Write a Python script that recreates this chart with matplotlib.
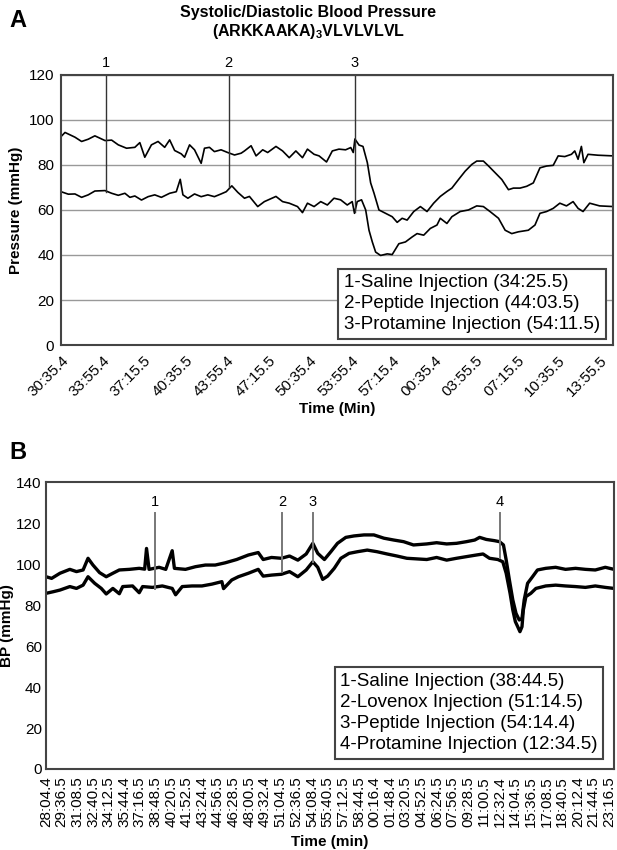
import numpy as np
import matplotlib
matplotlib.use("Agg")
import matplotlib.pyplot as plt

plt.rcParams["font.family"] = ["Liberation Sans", "DejaVu Sans"]
plt.rcParams["mathtext.fontset"] = "custom"
plt.rcParams["mathtext.bf"] = "Liberation Sans:bold"

# ---- panel A data (seconds from 30:35.4) ----
a_ticklabels = ["30:35.4", "33:55.4", "37:15.5", "40:35.5", "43:55.4", "47:15.5",
                "50:35.4", "53:55.4", "57:15.4", "00:35.4", "03:55.5", "07:15.5",
                "10:35.5", "13:55.5"]
a_sys_t = [0, 19, 67, 99, 131, 163, 212, 244, 276, 316, 356, 380, 404, 436, 468,
           500, 524, 548, 580, 596, 620, 644, 676, 692, 716, 740, 772, 804, 837,
           869, 885, 917, 941, 973, 997, 1037, 1069, 1101, 1133, 1165, 1189, 1221,
           1245, 1281, 1309, 1341, 1373, 1398, 1410, 1418, 1438, 1457, 1478, 1494,
           1510, 1534, 1566, 1598, 1622, 1646, 1670, 1702, 1734, 1766, 1798, 1830,
           1862, 1886, 1918, 1950, 1982, 2006, 2038, 2063, 2095, 2127, 2159, 2183,
           2215, 2247, 2279, 2311, 2343, 2375, 2399, 2431, 2463, 2479, 2495, 2511,
           2523, 2543, 2591, 2665]
a_sys_v = [92.6, 94.4, 92.3, 90.4, 91.4, 92.9, 90.8, 91.0, 88.9, 87.4, 87.8, 89.9,
           83.4, 88.9, 90.4, 87.8, 91.1, 86.4, 84.9, 83.4, 88.9, 86.7, 80.7, 87.4,
           87.8, 85.9, 86.7, 85.5, 84.4, 85.2, 86.2, 88.5, 84.0, 86.7, 85.5, 88.2,
           86.2, 83.2, 86.2, 83.2, 87.0, 84.7, 84.0, 81.3, 86.2, 87.0, 86.7, 87.7,
           85.5, 91.5, 88.8, 88.2, 81.0, 72.0, 67.5, 60.0, 58.5, 57.0, 54.5, 56.3,
           55.5, 59.3, 61.5, 59.3, 63.0, 66.0, 68.2, 69.7, 73.5, 77.2, 80.2, 81.7,
           81.7, 79.5, 76.5, 73.5, 69.0, 69.7, 69.7, 70.5, 72.0, 78.7, 79.5, 79.8,
           84.0, 83.7, 84.7, 86.2, 82.5, 88.2, 81.0, 84.7, 84.3, 84.0]
a_dia_t = [0, 35, 67, 99, 131, 163, 212, 244, 276, 308, 332, 356, 388, 420, 452,
           484, 524, 556, 575, 588, 612, 644, 676, 708, 740, 772, 797, 824, 853,
           885, 909, 949, 981, 1037, 1069, 1101, 1141, 1165, 1189, 1221, 1253,
           1285, 1317, 1349, 1381, 1405, 1416, 1429, 1450, 1470, 1486, 1502, 1518,
           1542, 1574, 1598, 1630, 1662, 1694, 1718, 1750, 1782, 1814, 1830, 1862,
           1886, 1926, 1966, 2006, 2038, 2070, 2111, 2143, 2175, 2207, 2255, 2287,
           2311, 2343, 2375, 2407, 2439, 2471, 2495, 2519, 2551, 2599, 2665]
a_dia_v = [68.1, 67.0, 67.1, 65.6, 66.7, 68.4, 68.6, 67.4, 66.5, 67.4, 65.6, 66.2,
           64.4, 65.9, 66.7, 65.6, 67.4, 68.1, 73.6, 66.7, 65.2, 67.1, 65.9, 66.7,
           65.9, 67.1, 68.1, 70.7, 67.8, 65.2, 66.0, 61.5, 63.7, 66.0, 63.7, 63.0,
           61.5, 58.8, 63.0, 61.5, 63.7, 62.2, 65.2, 64.5, 62.2, 63.7, 58.5, 63.7,
           64.5, 60.0, 51.0, 45.8, 41.3, 39.8, 40.5, 40.2, 45.0, 45.8, 48.0, 49.5,
           48.8, 51.8, 53.3, 56.3, 54.0, 57.0, 59.3, 60.0, 61.8, 61.5, 59.3, 56.3,
           51.0, 49.5, 50.3, 51.0, 53.3, 58.5, 59.3, 60.7, 63.0, 61.8, 63.7, 60.7,
           59.3, 63.0, 61.8, 61.5]
a_marks = ["1", "2", "3"]
a_mark_t = [215.0, 808.1, 1416.1]
a_mark_low = [68, 70, 59]
a_legend = ["1-Saline Injection (34:25.5)",
            "2-Peptide Injection (44:03.5)",
            "3-Protamine Injection (54:11.5)"]

# ---- panel B data (seconds from 28:04.4) ----
b_ticklabels = ["28:04.4", "29:36.5", "31:08.5", "32:40.5", "34:12.5", "35:44.4",
                "37:16.5", "38:48.5", "40:20.5", "41:52.5", "43:24.4", "44:56.5",
                "46:28.5", "48:00.5", "49:32.4", "51:04.5", "52:36.5", "54:08.4",
                "55:40.5", "57:12.5", "58:44.5", "00:16.4", "01:48.4", "03:20.5",
                "04:52.5", "06:24.5", "07:56.5", "09:28.5", "11:00.5", "12:32.4",
                "14:04.5", "15:36.5", "17:08.5", "18:40.5", "20:12.4", "21:44.5",
                "23:16.5"]
b_sys_t = [0, 33, 82, 140, 179, 218, 247, 276, 315, 354, 393, 431, 490, 548, 580,
           591, 606, 665, 704, 742, 755, 820, 879, 937, 995, 1054, 1121, 1190,
           1248, 1277, 1326, 1384, 1432, 1481, 1530, 1569, 1598, 1637, 1675, 1714,
           1763, 1811, 1870, 1928, 1987, 2045, 2103, 2161, 2239, 2297, 2356, 2414,
           2472, 2521, 2550, 2589, 2637, 2667, 2690, 2706, 2725, 2745, 2764, 2783,
           2799, 2812, 2832, 2861, 2890, 2939, 2997, 3055, 3114, 3172, 3230, 3289,
           3340]
b_sys_v = [93.8, 93.0, 95.5, 97.4, 96.3, 97.1, 102.8, 99.5, 95.8, 93.8, 95.5, 97.1,
           97.4, 97.9, 97.5, 107.6, 97.4, 98.4, 97.4, 106.5, 97.9, 97.4, 98.7, 99.5,
           99.5, 100.6, 102.2, 104.4, 105.6, 102.2, 103.2, 102.8, 103.9, 101.9,
           104.9, 110.1, 105.2, 102.2, 106.0, 110.1, 113.0, 113.7, 114.2, 114.2,
           112.6, 111.7, 110.9, 109.3, 109.8, 110.4, 109.8, 110.1, 110.9, 111.7,
           113.0, 112.0, 111.4, 110.9, 109.3, 102.0, 92.2, 82.5, 75.9, 72.7, 73.5,
           82.5, 90.6, 93.8, 97.1, 97.9, 98.4, 97.4, 97.9, 97.4, 97.1, 98.4, 97.4]
b_dia_t = [0, 43, 82, 140, 179, 218, 247, 286, 325, 354, 393, 431, 451, 509, 548,
           568, 626, 684, 742, 762, 801, 859, 917, 976, 1034, 1044, 1092, 1131,
           1190, 1248, 1277, 1326, 1384, 1432, 1481, 1530, 1569, 1598, 1627, 1656,
           1695, 1734, 1782, 1831, 1889, 1947, 2006, 2064, 2122, 2181, 2239, 2297,
           2356, 2414, 2472, 2531, 2570, 2608, 2657, 2686, 2706, 2729, 2745, 2760,
           2774, 2787, 2799, 2807, 2822, 2851, 2881, 2939, 2997, 3055, 3114, 3172,
           3230, 3289, 3340]
b_dia_v = [85.7, 86.5, 87.3, 89.0, 88.1, 89.7, 93.8, 90.6, 88.1, 85.4, 88.1, 85.5,
           89.0, 89.3, 86.0, 89.0, 88.6, 89.3, 88.1, 85.0, 89.0, 89.3, 89.3, 90.2,
           91.4, 88.0, 92.2, 93.8, 95.5, 97.4, 94.1, 94.6, 95.0, 96.3, 93.8, 97.1,
           101.1, 98.4, 92.5, 94.1, 97.9, 102.8, 105.2, 106.0, 106.8, 106.0, 104.9,
           103.9, 102.8, 102.5, 102.2, 103.2, 101.9, 102.8, 103.6, 104.4, 104.9,
           102.8, 102.2, 101.1, 95.5, 85.7, 77.6, 71.9, 69.4, 67.0, 69.4, 77.6,
           84.1, 85.7, 88.1, 89.3, 89.7, 89.3, 89.0, 88.6, 89.3, 88.6, 88.1]
b_marks = ["1", "2", "3", "4"]
b_mark_t = [640.1, 1390.1, 1570.0, 2668.1]
b_mark_low = [88, 96, 101, 103]
b_legend = ["1-Saline Injection (38:44.5)",
            "2-Lovenox Injection (51:14.5)",
            "3-Peptide Injection (54:14.4)",
            "4-Protamine Injection (12:34.5)"]

edge = "#444444"
fig = plt.figure(figsize=(6.17, 8.5), dpi=100)

# ---------------- Panel A ----------------
ax = fig.add_axes([0.099, 0.594, 0.895, 0.318])
ax.set_xlim(0, 2665)
ax.set_ylim(0, 120)
ax.set_yticks(range(0, 121, 20))
ax.yaxis.grid(True, color="#999999", lw=1.0)
ax.set_axisbelow(True)
ax.plot(a_sys_t, a_sys_v, color="black", lw=1.2)
ax.plot(a_dia_t, a_dia_v, color="black", lw=1.2)
for lab, t, low in zip(a_marks, a_mark_t, a_mark_low):
    ax.plot([t, t], [120, low], color="#333333", lw=1.0)
    ax.text(t, 122, lab, ha="center", va="bottom", fontsize=10.5, clip_on=False)
ax.set_xticks(np.arange(len(a_ticklabels)) * 200)
ax.set_xticklabels(a_ticklabels, rotation=45, ha="right", rotation_mode="anchor",
                   fontsize=10.5)
ax.tick_params(length=0, pad=5, labelsize=11)
ax.tick_params(axis="x", pad=6)
for s in ax.spines.values():
    s.set_color(edge)
    s.set_linewidth(1.5)
ax.text(0.512, 0.045, "\n".join(a_legend), transform=ax.transAxes, fontsize=13.5,
        ha="left", va="bottom", linespacing=1.3,
        bbox=dict(boxstyle="square,pad=0.3", fc="white", ec=edge, lw=1.5))
ax.set_ylabel("Pressure (mmHg)", fontsize=11, fontweight="bold", labelpad=4)
ax.set_xlabel("Time (Min)", fontsize=11, fontweight="bold", labelpad=2)
fig.text(0.5, 0.985, "Systolic/Diastolic Blood Pressure", ha="center", va="center",
         fontsize=11.5, fontweight="bold")
fig.text(0.5, 0.963, r"(ARKKAAKA)$\mathbf{_3}$VLVLVLVL", ha="center", va="center",
         fontsize=11.5, fontweight="bold")
fig.text(0.015, 0.976, "A", fontsize=17, fontweight="bold", va="center")

# ---------------- Panel B ----------------
bx = fig.add_axes([0.0746, 0.0953, 0.9205, 0.3376])
bx.set_xlim(0, 3340)
bx.set_ylim(0, 140)
bx.set_yticks(range(0, 141, 20))
bx.plot(b_sys_t, b_sys_v, color="black", lw=2.4)
bx.plot(b_dia_t, b_dia_v, color="black", lw=2.4)
for lab, t, low in zip(b_marks, b_mark_t, b_mark_low):
    bx.plot([t, t], [125, low], color="#777777", lw=1.4)
    bx.text(t, 127, lab, ha="center", va="bottom", fontsize=10.5)
bx.set_xticks(np.arange(len(b_ticklabels)) * 92)
bx.set_xticklabels(b_ticklabels, rotation=90, fontsize=8.5)
bx.tick_params(length=0, pad=3, labelsize=11)
bx.tick_params(axis="x", pad=5)
for s in bx.spines.values():
    s.set_color(edge)
    s.set_linewidth(1.5)
bx.text(0.518, 0.055, "\n".join(b_legend), transform=bx.transAxes, fontsize=13.5,
        ha="left", va="bottom", linespacing=1.32,
        bbox=dict(boxstyle="square,pad=0.3", fc="white", ec=edge, lw=1.5))
bx.set_ylabel("BP (mmHg)", fontsize=11, fontweight="bold", labelpad=2)
bx.set_xlabel("Time (min)", fontsize=11, fontweight="bold", labelpad=6)
fig.text(0.015, 0.468, "B", fontsize=17, fontweight="bold", va="center")

fig.savefig("out.png", dpi=100)
